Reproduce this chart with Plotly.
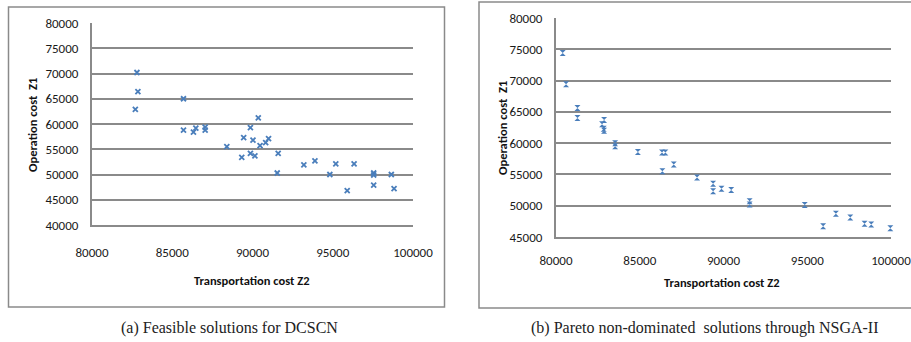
import plotly.graph_objects as go

W, H = 911, 342

# (a) Feasible solutions
feas_z2 = [82800, 82860, 82700, 85700, 85700, 86320, 86470, 87050, 87050, 88400,
           89330, 89450, 89870, 89870, 90030, 90150, 90360, 90470, 90820, 91000,
           91600, 91540, 93200, 93890, 94820, 95190, 95900, 96330, 97550, 97550,
           97550, 98650, 98820]
feas_z1 = [70200, 66400, 62900, 65000, 58800, 58400, 59200, 59400, 58800, 55500,
           53400, 57300, 59300, 54200, 56800, 53700, 61200, 55700, 56300, 57100,
           54200, 50300, 51900, 52700, 50000, 52100, 46800, 52100, 50300, 49900,
           47900, 50000, 47200]

# (b) Pareto non-dominated solutions
par_z2 = [80400, 80600, 81280, 81280, 82870, 82750, 82850, 82870, 83530, 83530,
          84890, 86330, 86530, 86350, 87030, 88420, 89380, 89380, 89880, 90460,
          91560, 91560, 94850, 95950, 96710, 97570, 98420, 98820, 99960]
par_z1 = [74400, 69400, 65600, 64000, 63700, 63000, 62300, 62000, 60000, 59500,
          58600, 58500, 58500, 55500, 56600, 54500, 53500, 52300, 52700, 52500,
          50700, 50200, 50100, 46700, 48700, 48100, 47100, 47000, 46400]

x_ticks = [80000, 85000, 90000, 95000, 100000]
y_ticks_a = [40000, 45000, 50000, 55000, 60000, 65000, 70000, 75000, 80000]
y_ticks_b = [45000, 50000, 55000, 60000, 65000, 70000, 75000, 80000]

x_title = "Transportation cost Z2"
y_title = "Operation cost  Z1"
cap_a = "(a) Feasible solutions for DCSCN"
cap_b = "(b) Pareto non-dominated  solutions through NSGA-II"

BLUE = "#4a7ebb"
GRID = "#8a8a8a"
TICKFONT = dict(family="Carlito, Liberation Sans, Arial", size=13, color="#1a1a1a")
TITLEFONT = dict(family="Carlito, Liberation Sans, Arial", size=12.5, color="#111")

def px(x):
    return x / W

def py(y):
    return 1 - y / H

fig = go.Figure()
fig.add_trace(go.Scatter(x=feas_z2, y=feas_z1, mode="markers", xaxis="x", yaxis="y",
                         cliponaxis=False,
                         marker=dict(symbol="x-thin", size=5, line=dict(color=BLUE, width=1.8)),
                         showlegend=False))
fig.add_trace(go.Scatter(x=par_z2, y=par_z1, mode="markers", xaxis="x2", yaxis="y2",
                         cliponaxis=False,
                         marker=dict(symbol="hourglass", size=6, color=BLUE),
                         showlegend=False))

common_x = dict(range=[80000, 100000], tickvals=x_ticks, ticktext=[str(v) for v in x_ticks],
                showgrid=False, zeroline=False, automargin=False, ticklabeloverflow="allow",
                showline=True, linecolor=GRID, linewidth=2, ticks="outside",
                tickcolor="rgba(0,0,0,0)", tickfont=TICKFONT)
common_y = dict(showgrid=True, gridcolor=GRID, gridwidth=2, zeroline=False, automargin=False,
                showline=True, linecolor=GRID, linewidth=2, ticks="outside",
                tickcolor="rgba(0,0,0,0)", ticklen=9, tickfont=TICKFONT)

fig.update_layout(
    width=W, height=H, margin=dict(l=0, r=0, t=0, b=0),
    paper_bgcolor="white", plot_bgcolor="white",
    xaxis=dict(domain=[px(92), px(413)], anchor="y", ticklen=14, **common_x),
    yaxis=dict(domain=[py(225), py(23)], anchor="x", range=[40000, 80000],
               tickvals=y_ticks_a, ticktext=[str(v) for v in y_ticks_a], **common_y),
    xaxis2=dict(domain=[px(556), px(891)], anchor="y2", ticklen=10, **common_x),
    yaxis2=dict(domain=[py(237), py(18)], anchor="x2", range=[45000, 80000],
                tickvals=y_ticks_b, ticktext=[str(v) for v in y_ticks_b], **common_y),
)

shapes = [
    dict(type="rect", xref="paper", yref="paper", x0=px(8.5), x1=px(444.5), y0=py(307), y1=py(7),
         line=dict(color="#8a8a8a", width=1.5)),
    dict(type="rect", xref="paper", yref="paper", x0=px(479), x1=px(913), y0=py(308), y1=py(2),
         line=dict(color="#8a8a8a", width=1.5)),
]
fig.update_layout(shapes=shapes)

ann = []
def add_text(t, x, y, font, angle=0, bold=True):
    ann.append(dict(text=("<b>%s</b>" % t) if bold else t, x=px(x), y=py(y), xref="paper", yref="paper",
                    showarrow=False, xanchor="center", yanchor="middle", textangle=angle, font=font))

add_text(y_title, 33, 125, TITLEFONT, angle=-90)
add_text(y_title, 502, 128, TITLEFONT, angle=-90)
add_text(x_title, 252, 280, TITLEFONT)
add_text(x_title, 722, 282, TITLEFONT)
CAPFONT = dict(family="Liberation Serif, Times New Roman", size=16, color="#222")
add_text(cap_a, 229, 328, CAPFONT, bold=False)
add_text(cap_b, 705, 328, CAPFONT, bold=False)
fig.update_layout(annotations=ann)

fig.write_html("out.html", config={"displayModeBar": False},
               post_script="document.body.style.margin='0';document.body.style.overflow='hidden';")
